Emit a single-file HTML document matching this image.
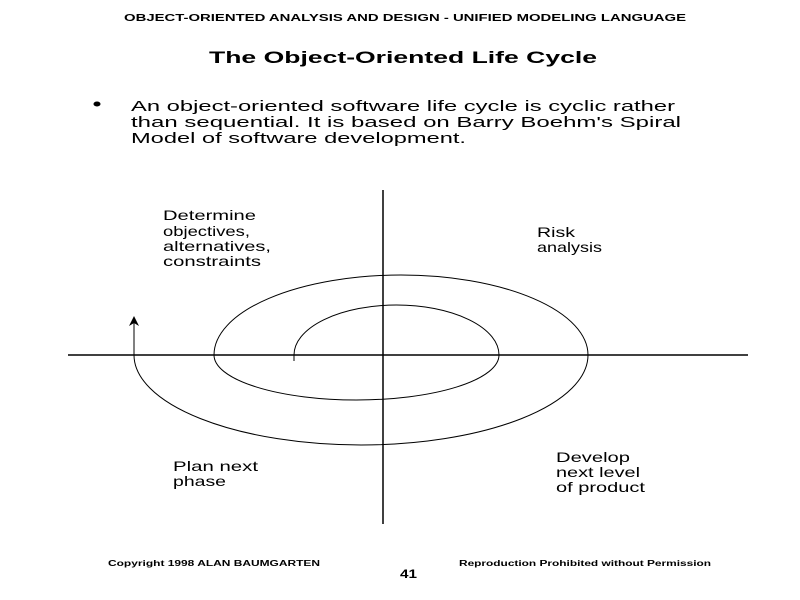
<!DOCTYPE html>
<html>
<head>
<meta charset="utf-8">
<style>
  html, body { margin: 0; padding: 0; background: #fff; }
  body { width: 800px; height: 600px; overflow: hidden; }
  svg { display: block; }
  text { font-family: "Liberation Sans", Arial, sans-serif; fill: #000; }
</style>
</head>
<body>
<svg width="800" height="600" viewBox="0 0 800 600" xmlns="http://www.w3.org/2000/svg">
  <rect x="0" y="0" width="800" height="600" fill="#fff"/>

  <!-- Header -->
  <text x="124" y="21" font-size="10" font-weight="bold" textLength="562" lengthAdjust="spacingAndGlyphs">OBJECT-ORIENTED ANALYSIS AND DESIGN - UNIFIED MODELING LANGUAGE</text>

  <!-- Title -->
  <text x="209" y="63" font-size="17" font-weight="bold" textLength="388" lengthAdjust="spacingAndGlyphs">The Object-Oriented Life Cycle</text>

  <!-- Bullet -->
  <ellipse cx="97" cy="104" rx="3.5" ry="2.5" fill="#000"/>
  <text x="131" y="111" font-size="15" textLength="544" lengthAdjust="spacingAndGlyphs">An object-oriented software life cycle is cyclic rather</text>
  <text x="131" y="127" font-size="15" textLength="550" lengthAdjust="spacingAndGlyphs">than sequential.  It is based on Barry Boehm's Spiral</text>
  <text x="131" y="143" font-size="15" textLength="335" lengthAdjust="spacingAndGlyphs">Model of software development.</text>

  <!-- Axes -->
  <line x1="68" y1="355" x2="748" y2="355" stroke="#000" stroke-width="1.5"/>
  <line x1="383" y1="190" x2="383" y2="524" stroke="#000" stroke-width="1.5"/>

  <!-- Spiral -->
  <path d="M294,361 L294,355 A102.5,50 0 0 1 499,355 A142.5,45 0 0 1 214,355 A187,80 0 0 1 588,355 A227,90 0 0 1 134,355 L134,322"
        fill="none" stroke="#000" stroke-width="1"/>
  <!-- Arrowhead -->
  <polygon points="134,316 129,326 134,323 139,326" fill="#000"/>

  <!-- Quadrant labels -->
  <text x="163" y="220" font-size="14" textLength="93" lengthAdjust="spacingAndGlyphs">Determine</text>
  <text x="163" y="236" font-size="14" textLength="87" lengthAdjust="spacingAndGlyphs">objectives,</text>
  <text x="163" y="251" font-size="14" textLength="108" lengthAdjust="spacingAndGlyphs">alternatives,</text>
  <text x="163" y="266" font-size="14" textLength="98" lengthAdjust="spacingAndGlyphs">constraints</text>

  <text x="537" y="237" font-size="14" textLength="38" lengthAdjust="spacingAndGlyphs">Risk</text>
  <text x="537" y="252" font-size="14" textLength="65" lengthAdjust="spacingAndGlyphs">analysis</text>

  <text x="173" y="471" font-size="14" textLength="85" lengthAdjust="spacingAndGlyphs">Plan next</text>
  <text x="173" y="486" font-size="14" textLength="53" lengthAdjust="spacingAndGlyphs">phase</text>

  <text x="556" y="462" font-size="14" textLength="74" lengthAdjust="spacingAndGlyphs">Develop</text>
  <text x="556" y="477" font-size="14" textLength="84" lengthAdjust="spacingAndGlyphs">next level</text>
  <text x="556" y="492" font-size="14" textLength="89" lengthAdjust="spacingAndGlyphs">of product</text>

  <!-- Footer -->
  <text x="108" y="566" font-size="8" font-weight="bold" textLength="212" lengthAdjust="spacingAndGlyphs">Copyright 1998  ALAN BAUMGARTEN</text>
  <text x="459" y="566" font-size="8" font-weight="bold" textLength="252" lengthAdjust="spacingAndGlyphs">Reproduction Prohibited without Permission</text>
  <text x="400" y="578" font-size="12" font-weight="bold" textLength="17" lengthAdjust="spacingAndGlyphs">41</text>
</svg>
</body>
</html>
